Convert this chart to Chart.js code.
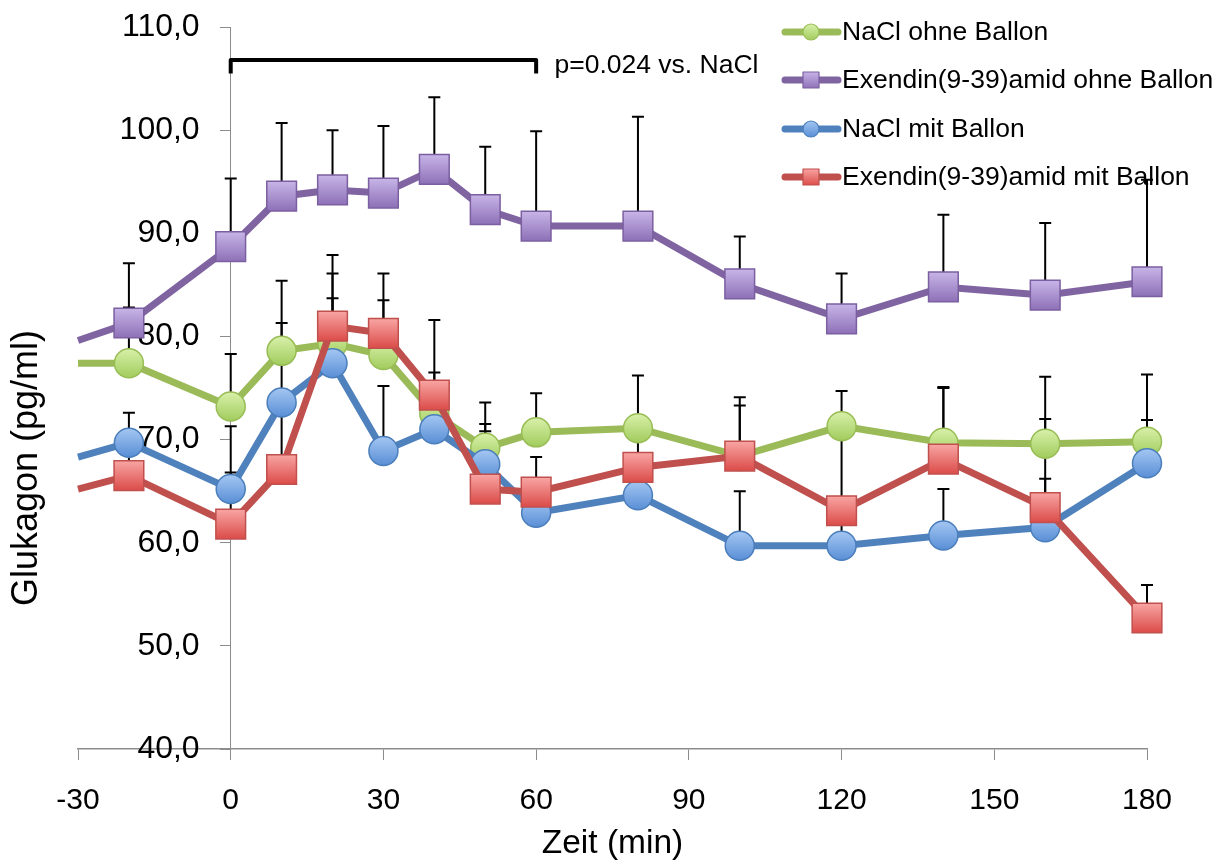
<!DOCTYPE html>
<html>
<head>
<meta charset="utf-8">
<script src="https://cdn.jsdelivr.net/npm/chart.js@4.4.1/dist/chart.umd.min.js"></script>
<style>
  body { margin: 0; background: #fff; }
</style>
</head>
<body>
<canvas id="glukagonChart" width="1228" height="861"></canvas>
<script>
// Zeitpunkte (min); -30 ist nur der Linienanfang am Achsenrand
const zeit = [-30, -20, 0, 10, 20, 30, 40, 50, 60, 80, 100, 120, 140, 160, 180];

const naclOhne      = [77.4, 77.4, 73.2, 78.6, 79.3, 78.2, 72.5, 69.2, 70.7, 71.1, 68.4, 71.3, 69.7, 69.6, 69.8];
const naclOhneSem   = [0, 5.4, 5.1, 6.8, 6.8, 5.3, 4.0, 4.4, 3.8, 5.1, 5.7, 3.4, 5.3, 6.5, 6.5];
const exOhne        = [79.6, 81.3, 88.7, 93.6, 94.2, 93.9, 96.2, 92.3, 90.7, 90.7, 85.1, 81.7, 84.8, 84.0, 85.3];
const exOhneSem     = [0, 5.8, 6.6, 7.1, 5.8, 6.5, 7.0, 6.1, 9.2, 10.6, 4.6, 4.4, 7.0, 7.0, 9.9];
const naclMit       = [68.3, 69.7, 65.2, 73.6, 77.4, 68.9, 71.0, 67.6, 62.9, 64.6, 59.7, 59.7, 60.7, 61.5, 67.7];
const naclMitSem    = [0, 2.9, 6.1, 7.7, 6.3, 6.3, 3.0, 3.9, 2.0, 2.5, 5.3, 3.0, 4.5, 10.5, 4.2];
const exMit         = [65.2, 66.5, 61.8, 67.1, 81.0, 80.3, 74.3, 65.2, 64.9, 67.3, 68.4, 63.1, 68.1, 63.4, 52.7];
const exMitSem      = [0, 3.0, 5.0, 6.0, 6.9, 5.8, 7.3, 5.6, 3.4, 4.0, 4.9, 8.0, 7.0, 2.8, 3.2];

const serienNamen = ['NaCl ohne Ballon', 'Exendin(9-39)amid ohne Ballon', 'NaCl mit Ballon', 'Exendin(9-39)amid mit Ballon'];

const xTicks = [-30, 0, 30, 60, 90, 120, 150, 180];
const yTickLabels = ['40,0', '50,0', '60,0', '70,0', '80,0', '90,0', '100,0', '110,0'];
const yMin = 40, yMax = 110;

const bracketVon = 0, bracketBis = 60;
const bracketText = 'p=0.024 vs. NaCl';

const FONT = "'Liberation Sans', Arial, sans-serif";

function punkte(werte) {
    return zeit.map((t, i) => ({ x: t, y: werte[i] }));
}

// Markerfuellung mit leichtem Verlauf wie in Excel
function verlauf(hell, dunkel, mitte) {
    return function(ctx) {
        const chart = ctx.chart;
        if (ctx.type !== 'data' || !chart.scales.y) return mitte;
        const y = chart.scales.y.getPixelForValue(ctx.parsed.y);
        if (!isFinite(y)) return mitte;
        const g = chart.ctx.createLinearGradient(0, y - 14, 0, y + 14);
        g.addColorStop(0, hell);
        g.addColorStop(1, dunkel);
        return g;
    };
}

function markerRadius(r) {
    return ctx => (ctx.parsed && ctx.parsed.x <= -30) ? 0 : r;
}

const serien = [
    { label: serienNamen[0], data: punkte(naclOhne), sem: naclOhneSem, line: '#9bbb59', hell: '#d7f0a8', mitte: '#b8de7c', dunkel: '#a2cc5e', rand: '#98bd55', style: 'circle', r: 14.5, order: 4 },
    { label: serienNamen[1], data: punkte(exOhne), sem: exOhneSem, line: '#8064a2', hell: '#c6b3e6', mitte: '#a58ccd', dunkel: '#8f72b8', rand: '#7b5fa0', style: 'rect', r: 21, order: 3 },
    { label: serienNamen[2], data: punkte(naclMit), sem: naclMitSem, line: '#4f81bd', hell: '#a3c6f2', mitte: '#79a8e6', dunkel: '#5a8fd6', rand: '#4a7ebb', style: 'circle', r: 14.5, order: 2 },
    { label: serienNamen[3], data: punkte(exMit), sem: exMitSem, line: '#c0504d', hell: '#f7a3a1', mitte: '#ea7775', dunkel: '#dc4e4b', rand: '#c0504d', style: 'rect', r: 21, order: 1 }
];

// Fehlerbalken (nur nach oben), unter den Linien gezeichnet
const fehlerbalken = {
    id: 'fehlerbalken',
    beforeDatasetsDraw(chart) {
        const { ctx, scales: { x, y } } = chart;
        ctx.save();
        ctx.strokeStyle = '#000';
        ctx.lineWidth = 2;
        chart.data.datasets.forEach(ds => {
            ds.data.forEach((p, i) => {
                const e = ds.sem[i];
                if (!e) return;
                const px = x.getPixelForValue(p.x);
                const py = y.getPixelForValue(p.y);
                const top = y.getPixelForValue(p.y + e);
                ctx.beginPath();
                ctx.moveTo(px, py);
                ctx.lineTo(px, top);
                ctx.moveTo(px - 6, top);
                ctx.lineTo(px + 6, top);
                ctx.stroke();
            });
        });
        ctx.restore();
    }
};

// Klammer, Achsentitel links und Legende
const extras = {
    id: 'extras',
    afterDraw(chart) {
        const { ctx, scales: { x, y } } = chart;
        ctx.save();

        // Klammer p-Wert
        const x0 = x.getPixelForValue(bracketVon);
        const x1 = x.getPixelForValue(bracketBis);
        const yTop = y.getPixelForValue(106.8);
        const yEnd = y.getPixelForValue(105.5);
        ctx.strokeStyle = '#000';
        ctx.lineWidth = 4;
        ctx.lineJoin = 'round';
        ctx.beginPath();
        ctx.moveTo(x0, yEnd);
        ctx.lineTo(x0, yTop);
        ctx.lineTo(x1, yTop);
        ctx.lineTo(x1, yEnd);
        ctx.stroke();
        ctx.fillStyle = '#000';
        ctx.font = '26.5px ' + FONT;
        ctx.textAlign = 'left';
        ctx.textBaseline = 'middle';
        ctx.fillText(bracketText, x.getPixelForValue(63.6), yTop + 6);

        // y-Achsentitel
        ctx.save();
        ctx.translate(27, 468);
        ctx.rotate(-Math.PI / 2);
        ctx.font = '36px ' + FONT;
        ctx.textAlign = 'center';
        ctx.textBaseline = 'middle';
        ctx.fillText('Glukagon (pg/ml)', 0, 0);
        ctx.restore();

        // Legende
        const lx0 = 785, lx1 = 838, mx = 811;
        const zeilen = [32, 80, 129, 177];
        chart.data.datasets.forEach((ds, i) => {
            const ly = zeilen[i];
            ctx.strokeStyle = ds.borderColor;
            ctx.lineWidth = 7;
            ctx.lineCap = 'round';
            ctx.beginPath();
            ctx.moveTo(lx0, ly);
            ctx.lineTo(lx1, ly);
            ctx.stroke();
            const g = ctx.createLinearGradient(0, ly - 8, 0, ly + 8);
            g.addColorStop(0, ds.hell);
            g.addColorStop(1, ds.dunkel);
            ctx.fillStyle = g;
            ctx.strokeStyle = ds.rand;
            ctx.lineWidth = 1.2;
            ctx.beginPath();
            if (ds.pointStyle === 'circle') {
                ctx.arc(mx, ly, 8, 0, Math.PI * 2);
            } else {
                ctx.rect(mx - 8, ly - 8, 16, 16);
            }
            ctx.fill();
            ctx.stroke();
            ctx.fillStyle = '#000';
            ctx.font = '26.5px ' + FONT;
            ctx.textAlign = 'left';
            ctx.textBaseline = 'middle';
            ctx.fillText(ds.label, 842, ly + 1);
        });
        ctx.restore();
    }
};

const yTickFont = { family: FONT, size: 32 };

const ctx = document.getElementById('glukagonChart').getContext('2d');
new Chart(ctx, {
    type: 'line',
    data: {
        datasets: serien.map(s => ({
            label: s.label,
            data: s.data,
            sem: s.sem,
            hell: s.hell,
            dunkel: s.dunkel,
            rand: s.rand,
            order: s.order,
            clip: false,
            borderColor: s.line,
            borderWidth: 7,
            tension: 0,
            fill: false,
            pointStyle: s.style,
            pointRadius: markerRadius(s.r),
            pointHoverRadius: markerRadius(s.r),
            pointBackgroundColor: verlauf(s.hell, s.dunkel, s.mitte),
            pointBorderColor: s.rand,
            pointBorderWidth: 1.5
        }))
    },
    options: {
        responsive: false,
        animation: false,
        events: [],
        layout: {
            padding: { left: 78, right: 81, top: 27, bottom: 0 }
        },
        scales: {
            x: {
                type: 'linear',
                min: -30,
                max: 180,
                afterBuildTicks: axis => { axis.ticks = xTicks.map(v => ({ value: v })); },
                afterFit: axis => { axis.height = 112; },
                ticks: {
                    color: '#000',
                    font: { family: FONT, size: 30 },
                    padding: 23
                },
                grid: {
                    drawOnChartArea: false,
                    tickLength: 11,
                    color: '#8c8c8c'
                },
                border: { color: '#8c8c8c', width: 1.5 },
                title: {
                    display: true,
                    text: 'Zeit (min)',
                    color: '#000',
                    font: { family: FONT, size: 33.5, lineHeight: 1 },
                    padding: { top: 0, bottom: 0 }
                }
            },
            // Achsenlinie mit Teilstrichen bei x = 0
            y: {
                type: 'linear',
                position: { x: 0 },
                min: yMin,
                max: yMax,
                ticks: { stepSize: 10, display: false },
                grid: {
                    drawOnChartArea: false,
                    tickLength: 10,
                    color: '#8c8c8c'
                },
                border: { color: '#8c8c8c', width: 1 }
            },
            // Beschriftung links neben der Achse
            yBeschriftung: {
                type: 'linear',
                axis: 'y',
                position: { x: -6.1 },
                min: yMin,
                max: yMax,
                ticks: {
                    stepSize: 10,
                    color: '#000',
                    font: yTickFont,
                    callback: (v) => yTickLabels[Math.round((v - yMin) / 10)]
                },
                grid: { display: false },
                border: { display: false }
            }
        },
        plugins: {
            legend: { display: false },
            tooltip: { enabled: false }
        }
    },
    plugins: [fehlerbalken, extras]
});
</script>
</body>
</html>
